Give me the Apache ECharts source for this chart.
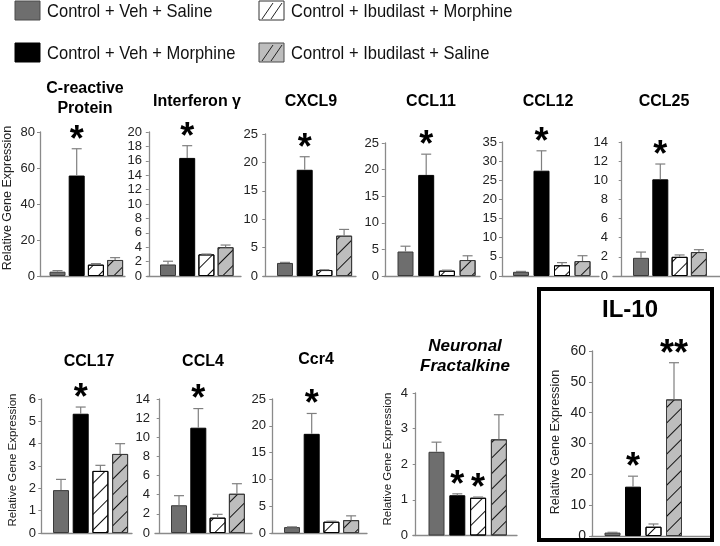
<!DOCTYPE html>
<html><head><meta charset="utf-8">
<script src="https://cdn.jsdelivr.net/npm/echarts@6/dist/echarts.min.js"></script>
<style>html,body{margin:0;padding:0;background:#fff}#c{width:720px;height:546px}</style>
</head><body><div id="c"></div>
<script>
// ---------------- DATA ----------------
const categories = ['Control + Veh + Saline', 'Control + Veh + Morphine', 'Control + Ibudilast + Morphine', 'Control + Ibudilast + Saline'];
const panelTitles = ['C-reactive\nProtein', 'Interferon γ', 'CXCL9', 'CCL11', 'CCL12', 'CCL25', 'CCL17', 'CCL4', 'Ccr4', 'Neuronal\nFractalkine', 'IL-10'];
const axisMax  = [80, 20, 25, 25, 35, 14, 6, 14, 25, 4, 60];
const axisStep = [20, 2, 5, 5, 5, 2, 1, 2, 5, 1, 10];

const crpMean   = [2.4, 55.8, 6.3, 8.9];    const crpSem   = [0.6, 14.9, 0.6, 1.3];
const ifngMean  = [1.6, 16.4, 3.0, 4.0];    const ifngSem  = [0.45, 1.7, 0.05, 0.3];
const cxcl9Mean = [2.3, 18.7, 1.05, 7.1];   const cxcl9Sem = [0.1, 2.3, 0.05, 1.1];
const ccl11Mean = [4.6, 19.0, 1.0, 3.0];    const ccl11Sem = [1.0, 3.9, 0.1, 0.8];
const ccl12Mean = [1.1, 27.5, 2.8, 3.9];    const ccl12Sem = [0.1, 5.2, 0.7, 1.4];
const ccl25Mean = [1.9, 10.1, 2.0, 2.5];    const ccl25Sem = [0.6, 1.6, 0.2, 0.25];
const ccl17Mean = [1.92, 5.34, 2.78, 3.54]; const ccl17Sem = [0.48, 0.3, 0.25, 0.46];
const ccl4Mean  = [2.9, 11.0, 1.6, 4.1];    const ccl4Sem  = [1.0, 2.0, 0.35, 1.05];
const ccr4Mean  = [1.1, 18.5, 2.1, 2.4];    const ccr4Sem  = [0.05, 3.8, 0.1, 0.8];
const fracMean  = [2.35, 1.13, 1.06, 2.70]; const fracSem  = [0.27, 0.04, 0.02, 0.69];
const il10Mean  = [1.1, 16.0, 3.0, 44.3];   const il10Sem  = [0.1, 3.4, 0.9, 11.9];

const starsStd  = ['', '*', '', ''];
const starsFrac = ['', '*', '*', ''];
const starsIl10 = ['', '*', '', '**'];

const means = [crpMean, ifngMean, cxcl9Mean, ccl11Mean, ccl12Mean, ccl25Mean, ccl17Mean, ccl4Mean, ccr4Mean, fracMean, il10Mean];
const sems  = [crpSem, ifngSem, cxcl9Sem, ccl11Sem, ccl12Sem, ccl25Sem, ccl17Sem, ccl4Sem, ccr4Sem, fracSem, il10Sem];
const stars = [starsStd, starsStd, starsStd, starsStd, starsStd, starsStd, starsStd, starsStd, starsStd, starsFrac, starsIl10];

// ---------------- LAYOUT (pixels) ----------------
const layout = [
  {ax: 40,  end: 125, top: 132, bottom: 276, c1: 57.5,  step: 19.2, tx: 85,  ty: 99,  lab: 13},
  {ax: 147, end: 241, top: 132, bottom: 276, c1: 168,   step: 19.2, tx: 197, ty: 102, lab: 13},
  {ax: 263, end: 356, top: 134, bottom: 276, c1: 285,   step: 19.7, tx: 311, ty: 102, lab: 13},
  {ax: 384, end: 480, top: 143, bottom: 276, c1: 405.5, step: 20.7, tx: 431, ty: 102, lab: 13},
  {ax: 502, end: 599, top: 142, bottom: 276, c1: 521,   step: 20.5, tx: 548, ty: 102, lab: 13},
  {ax: 613, end: 720, top: 142, bottom: 276, c1: 641,   step: 19.3, tx: 664, ty: 102, lab: 13},
  {ax: 41,  end: 132, top: 399, bottom: 533, c1: 61,    step: 19.7, tx: 89,  ty: 362, lab: 13},
  {ax: 155, end: 252, top: 399, bottom: 533, c1: 179,   step: 19.3, tx: 203, ty: 362, lab: 13},
  {ax: 271, end: 367, top: 399, bottom: 533, c1: 292,   step: 19.7, tx: 316, ty: 360, lab: 13},
  {ax: 413, end: 517, top: 393, bottom: 535.5, c1: 436.5, step: 20.8, tx: 465, ty: 356, lab: 13},
  {ax: 591, end: 711, top: 351, bottom: 536, c1: 612.5, step: 20.5, tx: 630, ty: 310, lab: 14}
];
const yTitles = [
  {panel: 0, x: 8,   y: 198, size: 12.5},
  {panel: 6, x: 13,  y: 460, size: 11.5},
  {panel: 9, x: 388, y: 459, size: 11.5},
  {panel: 10, x: 556, y: 442, size: 12.5}
];

const FONT = '"Liberation Sans", Arial, sans-serif';
const hatch = {symbol: 'rect', symbolSize: 1, dashArrayX: [1, 0], dashArrayY: [1, 10], rotation: -Math.PI / 4, color: '#111'};
const barStyles = [
  {color: '#6e6e6e', borderColor: '#3a3a3a', borderWidth: 1},
  {color: '#000000', borderColor: '#000', borderWidth: 1},
  {color: '#ffffff', borderColor: '#000', borderWidth: 1, decal: hatch},
  {color: '#bdbdbd', borderColor: '#3a3a3a', borderWidth: 1, decal: hatch}
];

const grid = [], xAxis = [], yAxis = [], series = [], graphic = [];
layout.forEach((L, i) => {
  grid.push({left: L.ax, top: L.top, width: L.end - L.ax, height: L.bottom - L.top, containLabel: false});
  xAxis.push({gridIndex: i, type: 'value', min: 1 - (L.c1 - L.ax) / L.step, max: 1 + (L.end - L.c1) / L.step,
    axisLine: {show: true, onZero: false, lineStyle: {color: '#8a8a8a', width: 1.3}},
    axisTick: {show: false}, axisLabel: {show: false}, splitLine: {show: false}});
  yAxis.push({gridIndex: i, type: 'value', min: 0, max: axisMax[i], interval: axisStep[i],
    axisLine: {show: true, lineStyle: {color: '#8a8a8a', width: 1.3}},
    axisTick: {show: true, length: 3, lineStyle: {color: '#8a8a8a'}},
    axisLabel: {margin: 5, color: '#222', fontSize: L.lab, fontFamily: FONT},
    splitLine: {show: false}});
  const m = means[i], s = sems[i], st = stars[i];
  series.push({type: 'bar', xAxisIndex: i, yAxisIndex: i, barWidth: 16, animation: false,
    data: categories.map((c, k) => ({name: c, value: [k + 1, m[k]], itemStyle: barStyles[k]}))});
  series.push({type: 'custom', xAxisIndex: i, yAxisIndex: i, animation: false, z: 3,
    data: categories.map((c, k) => [k + 1, m[k], m[k] + s[k]]),
    renderItem: (p, api) => {
      const a = api.coord([api.value(0), api.value(1)]);
      const b = api.coord([api.value(0), api.value(2)]);
      const ls = {stroke: '#7f7f7f', lineWidth: 1.2};
      return {type: 'group', children: [
        {type: 'line', shape: {x1: a[0], y1: a[1], x2: b[0], y2: b[1]}, style: ls},
        {type: 'line', shape: {x1: b[0] - 5, y1: b[1], x2: b[0] + 5, y2: b[1]}, style: ls}
      ]};
    }});
  series.push({type: 'custom', xAxisIndex: i, yAxisIndex: i, animation: false, z: 4, clip: false,
    data: categories.map((c, k) => [k + 1, m[k] + s[k]]),
    renderItem: (p, api) => {
      const lbl = st[p.dataIndex];
      if (!lbl) return null;
      const b = api.coord([api.value(0), api.value(1)]);
      return {type: 'text', x: b[0], y: b[1] - 8, style: {text: lbl, textAlign: 'center', textVerticalAlign: 'middle',
        font: 'bold 36px ' + FONT, fill: '#000'}};
    }});
  // panel title
  const italic = panelTitles[i].indexOf('Neuronal') === 0;
  const big = i === 10;
  graphic.push({type: 'text', x: L.tx, y: L.ty, z: 10, style: {text: panelTitles[i], textAlign: 'center', textVerticalAlign: 'middle',
    font: (italic ? 'italic ' : '') + 'bold ' + (big ? 24 : (italic ? 17 : 16)) + 'px ' + FONT, lineHeight: big ? 26 : 20, fill: '#000'}});
});

yTitles.forEach(t => {
  graphic.push({type: 'text', x: t.x, y: t.y, rotation: Math.PI / 2, style: {text: 'Relative Gene Expression',
    textAlign: 'center', textVerticalAlign: 'middle', font: t.size + 'px ' + FONT, fill: '#222'}});
});

// IL-10 frame
graphic.push({type: 'rect', shape: {x: 539, y: 289, width: 173, height: 251}, style: {fill: 'none', stroke: '#000', lineWidth: 4}, z: 1});

// legend
const legPos = [{x: 15, y: 1}, {x: 15, y: 43}, {x: 259, y: 1}, {x: 259, y: 43}];
const LFONT = '19px ' + FONT;
categories.forEach((c, k) => {
  const p = legPos[k], bs = barStyles[k];
  graphic.push({type: 'rect', shape: {x: p.x, y: p.y, width: 25, height: 19},
    style: {fill: bs.color, stroke: k === 1 ? '#000' : (k === 2 ? '#333' : '#4a4a4a'), lineWidth: 1}});
  if (k >= 2) {
    graphic.push({type: 'line', shape: {x1: p.x + 3, y1: p.y + 18, x2: p.x + 14, y2: p.y + 2}, style: {stroke: '#222', lineWidth: 1}});
    graphic.push({type: 'line', shape: {x1: p.x + 12, y1: p.y + 18, x2: p.x + 23, y2: p.y + 2}, style: {stroke: '#222', lineWidth: 1}});
  }
  graphic.push({type: 'text', x: p.x + 32, y: p.y + 11, scaleX: 0.87, style: {text: c, textAlign: 'left', textVerticalAlign: 'middle', font: LFONT, fill: '#111'}});
});

const chart = echarts.init(document.getElementById('c'), null, {renderer: 'canvas'});
chart.setOption({animation: false, backgroundColor: '#fff', grid, xAxis, yAxis, series, graphic});
</script></body></html>
